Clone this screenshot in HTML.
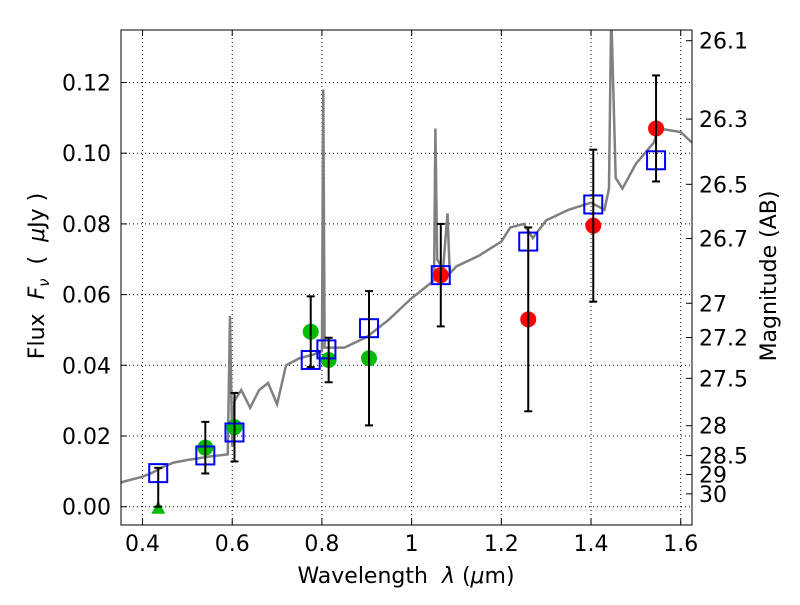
<!DOCTYPE html>
<html><head><meta charset="utf-8"><style>
body{margin:0;background:#fff}
text{font-family:"DejaVu Sans","Liberation Sans",sans-serif;fill:#000;white-space:pre}
</style></head><body>
<svg id="chart" width="800" height="600" xmlns="http://www.w3.org/2000/svg">
<g id="grid"></g>
<g id="spec"></g>
<g id="marks"></g>
<rect x="121" y="30" width="571" height="495" fill="none" stroke="#000" stroke-width="1"/>
<g id="axes"></g>
<text x="406" y="583" font-size="22" text-anchor="middle">Wavelength  <tspan font-style="italic">λ</tspan> (<tspan font-style="italic">μ</tspan>m)</text>
<text transform="translate(44,276) rotate(-90)" font-size="22" text-anchor="middle">Flux  <tspan font-style="italic">F</tspan><tspan font-style="italic" font-size="15" dy="5">ν</tspan><tspan dy="-5">  (  </tspan><tspan font-style="italic">μ</tspan>Jy )</text>
<text transform="translate(776,276) rotate(-90)" font-size="22" text-anchor="middle">Magnitude (AB)</text>
</svg>
<script>
const xTicks=[0.4,0.6,0.8,1.0,1.2,1.4,1.6];
const xTickLabels=["0.4","0.6","0.8","1","1.2","1.4","1.6"];
const yTicks=[0,0.02,0.04,0.06,0.08,0.10,0.12];
const yTickLabels=["0.00","0.02","0.04","0.06","0.08","0.10","0.12"];
const magTicks=[26.1,26.3,26.5,26.7,27,27.2,27.5,28,28.5,29,30];
const specWave=[0.35,0.37,0.4,0.42,0.45,0.47,0.5,0.55,0.59,0.595,0.6,0.605,0.62,0.64,0.66,0.68,0.7,0.72,0.75,0.78,0.8,0.803,0.806,0.85,0.9,0.95,1.0,1.05,1.053,1.057,1.07,1.08,1.085,1.1,1.15,1.2,1.22,1.25,1.27,1.3,1.35,1.4,1.43,1.44,1.445,1.455,1.47,1.5,1.54,1.55,1.6,1.625];
const specFlux=[0.0068,0.0075,0.0085,0.0095,0.0115,0.0125,0.0132,0.0142,0.0148,0.054,0.017,0.03,0.033,0.028,0.033,0.035,0.029,0.04,0.042,0.043,0.044,0.118,0.045,0.045,0.048,0.053,0.059,0.064,0.107,0.07,0.067,0.083,0.066,0.068,0.071,0.075,0.079,0.08,0.076,0.081,0.084,0.086,0.084,0.09,0.14,0.093,0.09,0.097,0.103,0.107,0.106,0.103];
const modelWave=[0.435,0.54,0.605,0.775,0.81,0.905,1.065,1.26,1.405,1.545];
const modelFlux=[0.0095,0.0145,0.021,0.0415,0.0445,0.0505,0.0655,0.075,0.0855,0.098];
const greenWave=[0.54,0.605,0.775,0.815,0.905];
const greenFlux=[0.0167,0.0225,0.0495,0.0415,0.042];
const greenErr=[0.0073,0.0097,0.010,0.0063,0.019];
const redWave=[1.065,1.26,1.405,1.545];
const redFlux=[0.0655,0.053,0.0795,0.107];
const redErr=[0.0145,0.026,0.0215,0.015];
const limWave=[0.435];
const limFlux=[0];
const limErrHi=[0.011];

const X=v=>121+(v-0.352)*448.5;
const Y=v=>506.7-v*3535;
const NS="http://www.w3.org/2000/svg";
function mk(tag,attrs,parent){const e=document.createElementNS(NS,tag);for(const k in attrs)e.setAttribute(k,attrs[k]);parent.appendChild(e);return e;}
const grid=document.getElementById('grid'),axes=document.getElementById('axes'),spec=document.getElementById('spec'),marks=document.getElementById('marks');
xTicks.forEach((t,i)=>{
 const l=mk('line',{x1:X(t),x2:X(t),y1:30,y2:525,stroke:'#000','stroke-dasharray':'1,3','stroke-width':1},grid);
 
 const tk=mk('line',{x1:X(t),x2:X(t),y1:525,y2:519,stroke:'#000'},axes);
 
 const tk2=mk('line',{x1:X(t),x2:X(t),y1:30,y2:36,stroke:'#000'},axes);
 
 const tx=mk('text',{x:X(t),y:551,'font-size':22,'text-anchor':'middle'},axes);tx.textContent=xTickLabels[i];
 
});
yTicks.forEach((t,i)=>{
 const l=mk('line',{x1:121,x2:692,y1:Y(t),y2:Y(t),stroke:'#000','stroke-dasharray':'1,3','stroke-width':1},grid);
 
 const tk=mk('line',{x1:121,x2:127,y1:Y(t),y2:Y(t),stroke:'#000'},axes);
 
 const tx=mk('text',{x:111,y:Y(t)+8,'font-size':22,'text-anchor':'end'},axes);tx.textContent=yTickLabels[i];
 
});
magTicks.forEach(m=>{
 const f=Math.pow(10,(23.9-m)/2.5);const y=Y(f);
 const tk=mk('line',{x1:692,x2:686,y1:y,y2:y,stroke:'#000'},axes);
 
 const tx=mk('text',{x:699,y:y+8,'font-size':22},axes);tx.textContent=String(m);
 
});
const cp=mk('clipPath',{id:'cp'},document.getElementById('chart'));mk('rect',{x:121,y:30,width:571,height:495},cp);
spec.setAttribute('clip-path','url(#cp)');
const pl=mk('polyline',{points:specWave.map((w,i)=>X(w)+','+Y(specFlux[i])).join(' '),fill:'none',stroke:'#808080','stroke-width':2.5},spec);

function err(x,lo,hi){
 const g=mk('g',{stroke:'#000','stroke-width':2},marks);
 
 mk('line',{x1:x,x2:x,y1:Y(lo),y2:Y(hi)},g);
 mk('line',{x1:x-4,x2:x+4,y1:Y(lo),y2:Y(lo)},g);
 mk('line',{x1:x-4,x2:x+4,y1:Y(hi),y2:Y(hi)},g);
}
limWave.forEach((w,i)=>{
 const x=X(w),y=Y(limFlux[i]);
 const t=mk('polygon',{points:`${x},${y-6} ${x-7},${y+7} ${x+7},${y+7}`,fill:'#00bb00'},marks);
 
 err(x,limFlux[i],limFlux[i]+limErrHi[i]);
});
greenWave.forEach((w,i)=>{
 const c=mk('circle',{cx:X(w),cy:Y(greenFlux[i]),r:8,fill:'#00bb00'},marks);
 
});
redWave.forEach((w,i)=>{
 const c=mk('circle',{cx:X(w),cy:Y(redFlux[i]),r:8,fill:'#ff0000'},marks);
 
});
modelWave.forEach((w,i)=>{
 const r=mk('rect',{x:X(w)-9,y:Y(modelFlux[i])-9,width:18,height:18,fill:'none',stroke:'#0000ff','stroke-width':2},marks);
 
});
greenWave.forEach((w,i)=>err(X(w),greenFlux[i]-greenErr[i],greenFlux[i]+greenErr[i]));
redWave.forEach((w,i)=>err(X(w),redFlux[i]-redErr[i],redFlux[i]+redErr[i]));
</script>
</body></html>
